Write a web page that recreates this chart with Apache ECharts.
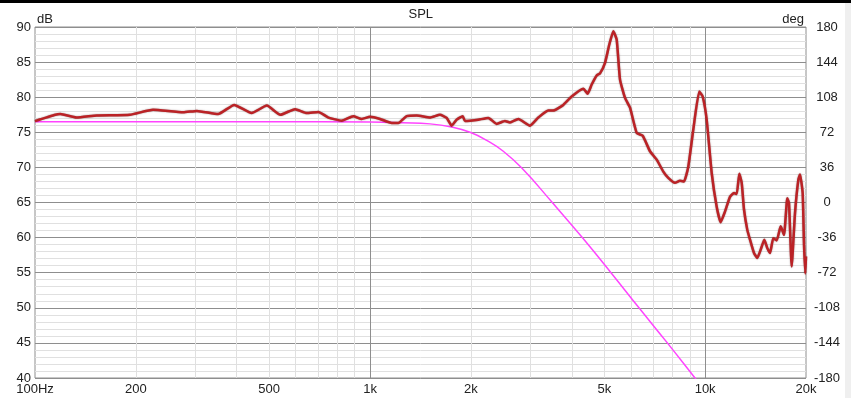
<!DOCTYPE html>
<html>
<head>
<meta charset="utf-8">
<title>SPL</title>
<script src="https://cdn.jsdelivr.net/npm/echarts@6/dist/echarts.min.js"></script>
<style>
  html, body { margin: 0; padding: 0; background: #ffffff; }
  #chart { width: 851px; height: 398px; }
</style>
</head>
<body>
<div id="chart"></div>
<script>
// Measured SPL response (Hz, dB)
const splFreq = [
  100, 115, 119, 133, 153, 192, 225, 277, 304, 352, 393, 443, 492, 540, 597, 647, 701, 751, 823, 891,
  944, 1000, 1071, 1160, 1214, 1286, 1378, 1510, 1617, 1693, 1752, 1814, 1890, 1920, 1987, 2104, 2254, 2387, 2527, 2616,
  2770, 3001, 3177, 3403, 3523, 3773, 3997, 4330, 4462, 4586, 4747, 4856, 5026, 5176, 5321, 5446, 5571, 5767, 5968, 6249,
  6512, 6846, 7169, 7502, 7763, 8128, 8412, 8648, 8907, 9219, 9605, 9833, 10106, 10461, 10826, 11127, 11462, 11863, 12195, 12424,
  12646, 12857, 13062, 13361, 13612, 13990, 14312, 14750, 15017, 15329, 15617, 15974, 16353, 16808, 17195, 17588, 17795, 18126, 18544, 18967,
  19191, 19548, 19724, 19902, 20000
];
const splDb = [
  76.6, 77.5, 77.6, 77.1, 77.4, 77.5, 78.2, 77.85, 78.05, 77.6, 78.9, 77.75, 78.8, 77.5, 78.3, 77.75, 77.9, 77.1, 76.65, 77.3,
  76.9, 77.2, 76.9, 76.33, 76.33, 77.3, 77.4, 77.1, 77.5, 77.05, 75.95, 76.8, 77.3, 76.6, 76.65, 76.8, 77.05, 76.2, 76.6, 76.4,
  76.9, 75.95, 77.1, 78.1, 78.1, 78.9, 80.1, 81.2, 80.5, 81.8, 83.1, 83.4, 84.9, 87.5, 89.4, 88.2, 82.5, 79.9, 78.5, 74.9,
  74.5, 72.3, 71.1, 69.4, 68.5, 67.8, 68.1, 68.0, 70.1, 75.4, 80.8, 80.1, 76.8, 69.2, 64.4, 62.2, 63.7, 65.8, 66.35, 66.2,
  69.1, 67.8, 64.0, 61.1, 59.7, 57.8, 57.1, 58.7, 59.7, 58.5, 57.8, 59.9, 59.6, 61.6, 60.4, 65.6, 64.9, 55.9, 63.5, 68.2,
  69.0, 66.35, 59.2, 54.9, 57.3
];

// Low-pass target curve (Hz, dB)
const lowpassFreq = [100, 500, 1000, 1250, 1510, 1752, 1988, 2229, 2498, 2837, 3498, 4299, 5236, 6346, 7712, 9327, 9652];
const lowpassDb   = [76.5, 76.5, 76.45, 76.35, 76.2, 75.76, 75.0, 73.85, 72.3, 69.9, 65.0, 60.0, 55.0, 50.0, 45.0, 40.0, 39.1];

// Frequency axis labels
const freqTicks = [100, 200, 500, 1000, 2000, 5000, 10000, 20000];
const freqTickLabels = ['100Hz', '200', '500', '1k', '2k', '5k', '10k', '20k'];

// Vertical grid lines (decade lines are drawn darker)
const gridFreqs = [200, 300, 400, 500, 600, 700, 800, 900, 1000, 2000, 3000, 4000, 5000, 6000, 7000, 8000, 9000, 10000];

// Level and phase axis ranges
const dbMin = 40, dbMax = 90, dbStep = 5;
const degMin = -180, degMax = 180, degStep = 36;

const FONT = 'Liberation Sans, Arial, sans-serif';
const MAJOR = '#8e8e8e';
const MINOR = '#e0e0e0';

const toPairs = (xs, ys) => xs.map((x, i) => [x, ys[i]]);
const gridColors = gridFreqs.map(f => (Math.log10(f) % 1 === 0 ? MAJOR : MINOR));
const freqLabel = v => {
  let best = 0;
  freqTicks.forEach((t, i) => { if (Math.abs(t - v) < Math.abs(freqTicks[best] - v)) best = i; });
  return freqTickLabels[best];
};

const chart = echarts.init(document.getElementById('chart'), null, { renderer: 'canvas' });

chart.setOption({
  animation: false,
  backgroundColor: '#ffffff',
  textStyle: { fontFamily: FONT },
  grid: {
    left: 35, right: 45, top: 27, bottom: 20,
    show: true, borderColor: MAJOR, borderWidth: 1, backgroundColor: 'transparent'
  },
  xAxis: {
    type: 'log', logBase: 10, min: 100, max: 20000,
    axisLine: { show: false },
    axisTick: { show: false, customValues: gridFreqs },
    axisLabel: {
      customValues: freqTicks,
      formatter: freqLabel,
      fontSize: 13, color: '#222', margin: 5, fontFamily: FONT
    },
    splitLine: { show: true, lineStyle: { color: gridColors, width: 1 } }
  },
  yAxis: [
    {
      type: 'value', min: dbMin, max: dbMax, interval: dbStep, position: 'left',
      axisLine: { show: false }, axisTick: { show: false },
      axisLabel: { fontSize: 13, color: '#222', margin: 4, fontFamily: FONT },
      splitLine: { show: true, lineStyle: { color: MAJOR, width: 1 } },
      minorTick: { show: false, splitNumber: 5 },
      minorSplitLine: { show: true, lineStyle: { color: MINOR, width: 1 } }
    },
    {
      type: 'value', min: degMin, max: degMax, interval: degStep, position: 'right',
      axisLine: { show: false }, axisTick: { show: false },
      axisLabel: { fontSize: 13, color: '#222', margin: 21, align: 'center', fontFamily: FONT },
      splitLine: { show: false }
    }
  ],
  series: [
    {
      name: 'Low-pass',
      type: 'line', yAxisIndex: 0, clip: true, z: 2,
      data: toPairs(lowpassFreq, lowpassDb),
      symbol: 'none', smooth: true,
      lineStyle: { color: '#ff44ff', width: 1.5 }
    },
    {
      name: 'SPL',
      type: 'line', yAxisIndex: 0, clip: true, z: 3,
      data: toPairs(splFreq, splDb),
      symbol: 'none', smooth: 0.15,
      lineStyle: { color: '#bb2226', width: 2.5, shadowColor: 'rgba(60,0,0,0.5)', shadowBlur: 1.5, join: 'round' }
    }
  ],
  graphic: [
    { type: 'rect', x: 0, y: 0, shape: { width: 851, height: 3 }, style: { fill: '#000000' }, silent: true },
    { type: 'rect', x: 845, y: 3, shape: { width: 6, height: 395 }, style: { fill: '#efefef' }, silent: true },
    { type: 'text', x: 420.8, y: 14, style: { text: 'SPL', fill: '#222', font: '13px ' + FONT, align: 'center', verticalAlign: 'middle' } },
    { type: 'text', x: 37, y: 19, style: { text: 'dB', fill: '#222', font: '13px ' + FONT, align: 'left', verticalAlign: 'middle' } },
    { type: 'text', x: 804, y: 19, style: { text: 'deg', fill: '#222', font: '13px ' + FONT, align: 'right', verticalAlign: 'middle' } }
  ]
});
</script>
</body>
</html>
